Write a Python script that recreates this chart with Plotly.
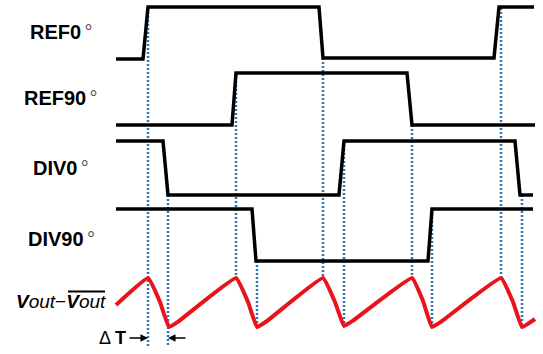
import plotly.graph_objects as go

# ---- data (time axis in screen-like units, levels) ----
REF0_T = [116, 143, 148, 319, 323, 494, 499, 534]
REF0_V = [59, 59, 7, 7, 58, 58, 7, 7]

REF90_T = [116, 232, 236, 407, 412, 535]
REF90_V = [125, 125, 73, 73, 125, 125]

DIV0_T = [116, 163, 168, 339, 344, 515, 520, 533]
DIV0_V = [141, 141, 195, 195, 141, 141, 195, 195]

DIV90_T = [116, 252, 256, 428, 432, 533]
DIV90_V = [209, 209, 261, 261, 209, 209]

VOUT_T = [116, 148, 160, 169, 179, 236, 248, 257, 267, 323, 335, 344, 354,
          412, 423, 432, 442, 501, 513, 522, 535]
VOUT_V = [305, 278, 302, 327, 321, 278, 302, 327, 321, 278, 302, 326, 320,
          278, 301, 327, 321, 278, 302, 327, 319]

MARK_T = [148, 168, 236, 257, 323, 344, 412, 432, 501, 522]
MARK_TOP = [8, 195, 73, 261, 58, 141, 125, 209, 8, 195]
MARK_BOT = [346, 346, 278, 327, 278, 326, 278, 327, 278, 327]

LABELS = ["REF0", "REF90", "DIV0", "DIV90"]
LABEL_Y = [32, 97.5, 167.5, 239]

W, H = 543, 354
BLACK = "#000000"
RED = "#e8141b"
BLUE = "#2e75b6"
FONT = "Liberation Sans, Arial, sans-serif"

fig = go.Figure()

# dotted markers
mx, my = [], []
for t, a, b in zip(MARK_T, MARK_TOP, MARK_BOT):
    mx += [t, t, None]
    my += [a, b, None]
fig.add_trace(go.Scatter(x=mx, y=my, mode="lines",
                         line=dict(color=BLUE, width=2.5, dash="2px,2px"),
                         hoverinfo="skip"))

for T, V in [(REF0_T, REF0_V), (REF90_T, REF90_V), (DIV0_T, DIV0_V), (DIV90_T, DIV90_V)]:
    fig.add_trace(go.Scatter(x=T, y=V, mode="lines",
                             line=dict(color=BLACK, width=3.5), hoverinfo="skip"))

fig.add_trace(go.Scatter(x=VOUT_T, y=VOUT_V, mode="lines",
                         line=dict(color=RED, width=4, shape="spline", smoothing=0.3),
                         hoverinfo="skip"))

ann = []
for name, y in zip(LABELS, LABEL_Y):
    ann.append(dict(x=61, y=y, xref="x", yref="y", showarrow=False,
                    xanchor="center", yanchor="middle",
                    text=f"<b>{name}</b><span style='font-size:12px'> </span>"
                         f"<span style='color:#555555'>°</span>",
                    font=dict(family=FONT, size=20, color=BLACK)))

ann.append(dict(x=61, y=301, xref="x", yref="y", showarrow=False,
                xanchor="center", yanchor="middle",
                text="<b><i>V</i></b><i>out</i>−<b><i>V</i></b><i>out</i>",
                font=dict(family=FONT, size=19, color=BLACK)))

ann.append(dict(x=112, y=338, xref="x", yref="y", showarrow=False,
                xanchor="center", yanchor="middle",
                text="Δ <b>T</b>",
                font=dict(family=FONT, size=18, color=BLACK)))

# Delta T arrows
ann.append(dict(x=MARK_T[0], y=338, ax=128, ay=338, xref="x", yref="y",
                axref="x", ayref="y", showarrow=True, arrowhead=2,
                arrowsize=1, arrowwidth=1.5, arrowcolor=BLACK, text=""))
ann.append(dict(x=MARK_T[1], y=338, ax=187, ay=338, xref="x", yref="y",
                axref="x", ayref="y", showarrow=True, arrowhead=2,
                arrowsize=1, arrowwidth=1.5, arrowcolor=BLACK, text=""))

fig.update_layout(
    width=W, height=H, margin=dict(l=0, r=0, t=0, b=0),
    paper_bgcolor="white", plot_bgcolor="white", showlegend=False,
    annotations=ann,
    shapes=[dict(type="line", xref="x", yref="y", x0=68, x1=105, y0=291.5, y1=291.5,
                 line=dict(color=BLACK, width=2))],
    xaxis=dict(range=[0, W], visible=False, fixedrange=True),
    yaxis=dict(range=[H, 0], visible=False, fixedrange=True),
)

fig.write_html("out.html", config={"displayModeBar": False})
